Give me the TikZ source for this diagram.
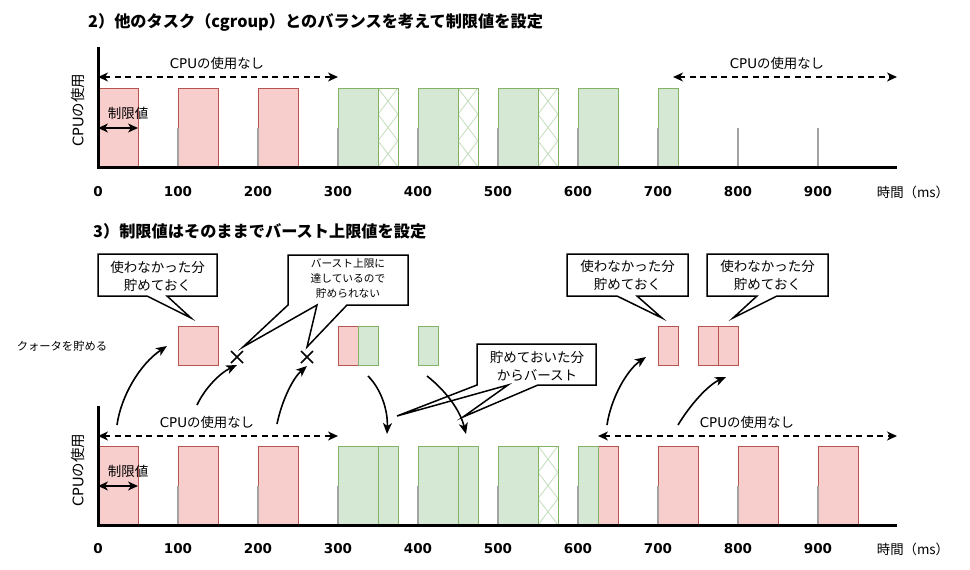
\documentclass[tikz,border=0pt]{standalone}
\usepackage{fontspec}
\setmainfont{Noto Sans CJK JP}
\newfontfamily\lat{DejaVu Sans}
\usetikzlibrary{arrows.meta}
\definecolor{rfill}{HTML}{F8CECC}
\definecolor{rdraw}{HTML}{B85450}
\definecolor{gfill}{HTML}{D5E8D4}
\definecolor{gdraw}{HTML}{82B366}
\definecolor{ghatch}{HTML}{C8E0C1}
\definecolor{tickgray}{HTML}{A3A3A3}
\newcommand\fttl{\fontsize{16.2}{18}\selectfont\bfseries}
\newcommand\fcpu{\fontsize{13.4}{15}\selectfont}
\newcommand\fcall{\fontsize{13.5}{18}\selectfont}
\newcommand\fsmall{\fontsize{10.7}{15}\selectfont}
\newcommand\fnum{\fontsize{13.5}{15}\selectfont\lat\bfseries}
\newcommand\hatchbar[4]{%
  \fill[white] (#1,#2) rectangle (#3,#4);
  \begin{scope}
    \clip (#1,#2) rectangle (#3,#4);
    \foreach \k in {0,1,2}{
      \draw[hatchline] (#1,{#2+\k*(#4-#2)/3}) -- (#3,{#2+(\k+1)*(#4-#2)/3});
      \draw[hatchline] (#3,{#2+\k*(#4-#2)/3}) -- (#1,{#2+(\k+1)*(#4-#2)/3});
    }
  \end{scope}
  \draw[hatchframe] (#1,#2) rectangle (#3,#4);
}
\begin{document}
\begin{tikzpicture}[x=1pt,y=-1pt,
  redbar/.style={fill=rfill,draw=rdraw,line width=1pt},
  greenbar/.style={fill=gfill,draw=gdraw,line width=1pt},
  hatchframe/.style={draw=gdraw,line width=1pt},
  hatchline/.style={draw=ghatch,line width=0.9pt},
  tickmark/.style={draw=tickgray,line width=2pt},
  axisline/.style={line width=3pt},
  dasharrow/.style={line width=1.5pt,dash pattern=on 6pt off 4.5pt,{Stealth[length=10pt,width=9pt,inset=3pt]}-{Stealth[length=10pt,width=9pt,inset=3pt]}},
  limarrow/.style={line width=1.5pt,{Stealth[length=10pt,width=9pt,inset=3pt]}-{Stealth[length=10pt,width=9pt,inset=3pt]}},
  curvearrow/.style={line width=1.6pt,-{Stealth[length=11pt,width=9pt,inset=3pt]}},
  callout/.style={draw,line width=1.5pt,fill=white,line join=miter},
  xmark/.style={line width=1.5pt},
  txt/.style={inner sep=0pt,align=center}]
\useasboundingbox (0,0) rectangle (970,570);

% ---------- titles ----------
\node[txt,anchor=west,font=\fttl] (t2) at (88,22) {2）他のタスク（cgroup）とのバランスを考えて制限値を設定};
\node[txt,anchor=west,font=\fttl] (t3) at (93,231) {3）制限値はそのままでバースト上限値を設定};

% ---------- top chart ----------
\foreach \a/\b in {98/138,178/218,258/298}{\draw[redbar] (\a,88) rectangle (\b,167);}
\foreach \a/\b in {338/378,418/458,498/538,578/618,658/678}{\draw[greenbar] (\a,88) rectangle (\b,167);}
\hatchbar{378}{88}{398}{167}
\hatchbar{458}{88}{478}{167}
\hatchbar{538}{88}{558}{167}
\foreach \x in {178,258,338,418,498,578,658,738,818}{\draw[tickmark] (\x,128) -- (\x,167);}
\draw[axisline] (98,47) -- (98,167) -- (897,167);
\coordinate (ua1) at (98,77); \coordinate (ua2) at (338,77);
\draw[dasharrow] (ua1) -- (ua2);
\coordinate (ub1) at (673,77); \coordinate (ub2) at (897,77);
\draw[dasharrow] (ub1) -- (ub2);
\node[txt,font=\fcpu] (un1) at (217,63) {{\lat CPU}の使用なし};
\node[txt,font=\fcpu] (un2) at (777,63) {{\lat CPU}の使用なし};
\node[txt,font=\fcall] (ul) at (128,113) {制限値};
\coordinate (lim1a) at (98,128); \coordinate (lim1b) at (138,128);
\draw[limarrow] (lim1a) -- (lim1b);
\node[txt,rotate=90,font=\fontsize{14.5}{16}\selectfont] (uy) at (78,110) {{\lat CPU}の使用};
\foreach \x/\v in {98/0,178/100,258/200,338/300,418/400,498/500,578/600,658/700,738/800,818/900}{\node[txt,font=\fnum] at (\x,192) {\v};}
\node[txt,font=\fcpu] (ut) at (913,192) {時間（ms）};

% ---------- stored quota row ----------
\foreach \a/\b in {178/218,338/358,658/678,698/718,718/738}{\draw[redbar] (\a,326) rectangle (\b,365);}
\foreach \a/\b in {358/378,418/438}{\draw[greenbar] (\a,326) rectangle (\b,365);}
\node[txt,font=\fontsize{11.3}{13}\selectfont] (quota) at (62,346) {クォータを貯める};
\coordinate (x1) at (237,357); \coordinate (x2) at (307,357);
\draw[xmark] ([shift={(-6,-6)}]x1) -- ([shift={(6,6)}]x1) ([shift={(6,-6)}]x1) -- ([shift={(-6,6)}]x1);
\draw[xmark] ([shift={(-6,-6)}]x2) -- ([shift={(6,6)}]x2) ([shift={(6,-6)}]x2) -- ([shift={(-6,6)}]x2);

% ---------- callouts ----------
\draw[callout] (98,254) -- (217,254) -- (217,296) -- (167,296) -- (191,318) -- (147,296) -- (98,296) -- cycle;
\node[txt,font=\fcall] (c1) at (157.5,276) {使わなかった分\\貯めておく};
\draw[callout] (288,255) -- (408,255) -- (408,305) -- (347,305) -- (307,347) -- (317,305) -- (243,347) -- (288,305) -- cycle;
\node[txt,font=\fsmall] (c2) at (348,279) {バースト上限に\\達しているので\\貯められない};
\draw[callout] (567,254) -- (688,254) -- (688,296) -- (637,296) -- (662,318) -- (617,296) -- (567,296) -- cycle;
\node[txt,font=\fcall] (c3) at (627.5,275) {使わなかった分\\貯めておく};
\draw[callout] (707,254) -- (828,254) -- (828,296) -- (777,296) -- (733,318) -- (757,296) -- (707,296) -- cycle;
\node[txt,font=\fcall] (c4) at (767.5,275) {使わなかった分\\貯めておく};
\draw[callout] (477,344) -- (596,344) -- (596,385) -- (538,385) -- (463,417) -- (508,385) -- (397,416) -- (477,385) -- cycle;
\node[txt,font=\fcall] (c5) at (537,366.5) {貯めておいた分\\からバースト};

% ---------- curved arrows ----------
\draw[curvearrow] (117,425) .. controls (121,396) and (140,364) .. (167,346);
\draw[curvearrow] (197,405) .. controls (205,388) and (220,373) .. (237,365);
\draw[curvearrow] (277,424) .. controls (282,400) and (293,378) .. (307,366);
\draw[curvearrow] (368,376) .. controls (381,389) and (388,410) .. (387,434);
\draw[curvearrow] (427,376) .. controls (446,391) and (460,410) .. (466,434);
\draw[curvearrow] (607,425) .. controls (611,398) and (627,370) .. (646,357);
\draw[curvearrow] (678,425) .. controls (690,405) and (708,385) .. (726,377);

% ---------- bottom chart ----------
\foreach \a/\b in {98/138,178/218,258/298,598/618,658/698,738/778,818/858}{\draw[redbar] (\a,446) rectangle (\b,525);}
\foreach \a/\b in {338/378,378/398,418/458,458/478,498/538,578/598}{\draw[greenbar] (\a,446) rectangle (\b,525);}
\hatchbar{538}{446}{558}{525}
\foreach \x in {178,258,338,418,498,578,658,738,818}{\draw[tickmark] (\x,486) -- (\x,525);}
\draw[axisline] (98,406) -- (98,525) -- (897,525);
\coordinate (la1) at (98,436); \coordinate (la2) at (338,436);
\draw[dasharrow] (la1) -- (la2);
\coordinate (lb1) at (598,436); \coordinate (lb2) at (897,436);
\draw[dasharrow] (lb1) -- (lb2);
\node[txt,font=\fcpu] (ln1) at (207,422) {{\lat CPU}の使用なし};
\node[txt,font=\fcpu] (ln2) at (747,422) {{\lat CPU}の使用なし};
\node[txt,font=\fcall] (ll) at (128,471) {制限値};
\coordinate (lim2a) at (98,486); \coordinate (lim2b) at (138,486);
\draw[limarrow] (lim2a) -- (lim2b);
\node[txt,rotate=90,font=\fontsize{14.5}{16}\selectfont] (ly) at (78,470) {{\lat CPU}の使用};
\foreach \x/\v in {98/0,178/100,258/200,338/300,418/400,498/500,578/600,658/700,738/800,818/900}{\node[txt,font=\fnum] at (\x,549) {\v};}
\node[txt,font=\fcpu] (lt) at (913,549) {時間（ms）};
\end{tikzpicture}
\end{document}
